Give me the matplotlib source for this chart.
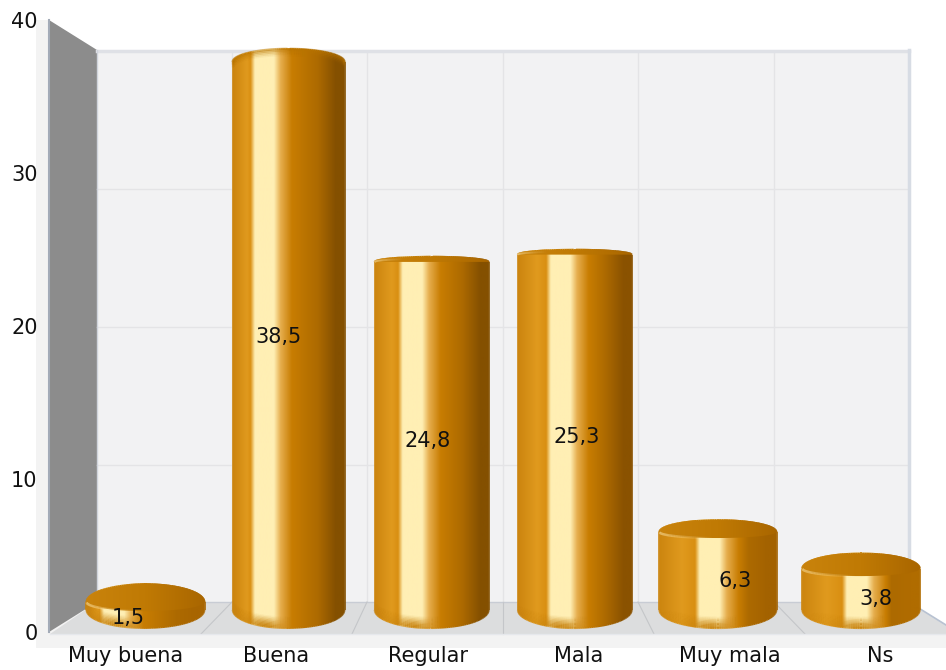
import numpy as np
import matplotlib
matplotlib.use("Agg")
import matplotlib.pyplot as plt
from matplotlib.collections import LineCollection
from matplotlib.colors import LinearSegmentedColormap, to_rgba
from matplotlib.patches import Polygon, Rectangle

categories = ["Muy buena", "Buena", "Regular", "Mala", "Muy mala", "Ns"]
values = [1.5, 38.5, 24.8, 25.3, 6.3, 3.8]
value_labels = ["1,5", "38,5", "24,8", "25,3", "6,3", "3,8"]
y_ticks = [0, 10, 20, 30, 40]

W, H = 946, 670

# nudges of the value labels, in pixels (sideways, down)
label_nudge_x = [-17, -10, -4, 2, 17, 15]
label_nudge_y = [5, -6, -2, -2, 3, 3]

# where the shine sits across each bar, and how dark its right edge gets
shine_pos = [0.235, 0.28, 0.325, 0.37, 0.43, 0.465]
right_dark = ["#a86500", "#845000", "#845000", "#8a5200", "#a36200", "#b06c00"]

# bar scale: pixel row = BAR_ZERO - BAR_SCALE * value
BAR_ZERO = 624
BAR_SCALE = 14.6
BAR_X0 = 145.5
BAR_STEP = 143.1
BASE_ROW = 610
BASE_DROP = 18

cap_cmap = LinearSegmentedColormap.from_list("cap", ["#c9830c", "#c07a04", "#a96600"])


def body_cmap(c, dark):
    hw = 0.085
    return LinearSegmentedColormap.from_list("body", [
        (0.0, "#cc850f"), (0.45 * c, "#e09a1e"), (c - hw - 0.04, "#d98f12"),
        (c - hw, "#ffefb4"), (c + hw, "#ffefb4"), (c + hw + 0.06, "#e6ae4e"),
        (c + hw + 0.16, "#c87d02"), (0.76, "#ad6a00"), (0.92, dark), (1.0, dark),
    ])


fig = plt.figure(figsize=(W / 100, H / 100), dpi=100)
fig.patch.set_facecolor("white")

# background in plain pixels
bg = fig.add_axes([0, 0, 1, 1], zorder=0)
bg.set_xlim(0, W)
bg.set_ylim(H, 0)
bg.axis("off")
bg.add_patch(Rectangle((36, 20), 910, 628, fc="#f3f3f3", ec="none"))
bg.add_patch(Polygon([(48, 20), (97, 50), (909, 50), (909, 0), (36, 0), (36, 20)], fc="white", ec="none"))
bg.add_patch(Rectangle((909, 0), 37, 602, fc="white", ec="none"))
bg.add_patch(Polygon([(909, 602), (946, 625), (946, 602)], fc="white", ec="none"))
bg.add_patch(Rectangle((97, 51), 812, 551, fc="#f2f2f3", ec="none"))
for row in [189, 327, 465]:
    bg.plot([97, 909], [row, row], color="#e4e4e6", lw=1)
back_cols = [232, 367, 503, 638, 774]
front_cols = [201, 352, 503, 654, 805]
for c in back_cols:
    bg.plot([c, c], [51, 602], color="#e4e4e6", lw=1)
bg.add_patch(Polygon([(97, 602), (909, 602), (946, 625), (946, 634), (50, 634)],
                     fc="#dcddde", ec="none"))
bg.plot([97, 909], [602, 602], color="#c8ccd4", lw=1)
for c, f in zip(back_cols, front_cols):
    bg.plot([c, f], [602, 634], color="#c4c6c9", lw=0.8)
bg.plot([909, 946], [602, 625], color="#b8c2d2", lw=1.2)
bg.plot([50, 946], [634, 634], color="#e6e8ec", lw=1)
bg.plot([97, 909], [50.5, 50.5], color="#dfe1e6", lw=2.5)
bg.plot([909, 909], [50, 602], color="#d7dce4", lw=2.5)
bg.add_patch(Polygon([(49, 20), (97, 50), (97, 602), (49, 632)], fc="#8c8c8c", ec="none"))
bg.plot([49, 49], [20, 632], color="#a3abb8", lw=1.5)
bg.plot([97, 97], [50, 602], color="#d0d4dc", lw=1)

# front plane: carries the y ticks and the category labels
front = fig.add_axes([50 / W, (H - 632) / H, 906 / W, 612 / H], zorder=1)
front.patch.set_visible(False)
for s in front.spines.values():
    s.set_visible(False)
front.set_xlim(-0.5, 5.5)
front.set_ylim(0, 40)
front.set_xticks(range(len(categories)))
front.set_xticklabels(categories, fontsize=15, color="#111111")
front.set_yticks(y_ticks)
front.set_yticklabels([str(t) for t in y_ticks], fontsize=15, color="#111111")
front.tick_params(axis="x", length=0, pad=10)
front.tick_params(axis="y", length=0, pad=9)

# bars, on their own value scale
ax = fig.add_axes([0, 0, 1, 1], zorder=2)
ax.patch.set_visible(False)
ax.axis("off")


def gradient(cmap, x0, x1, y0, y1, clip, zorder):
    img = ax.imshow(np.linspace(0, 1, 256).reshape(1, -1), cmap=cmap, vmin=0, vmax=1,
                    extent=(x0, x1, y0, y1), aspect="auto", interpolation="bilinear",
                    zorder=zorder)
    patch = Polygon(clip, closed=True, transform=ax.transData, fc="none", ec="none")
    ax.add_patch(patch)
    img.set_clip_path(patch)


def soft_edge(xs, ys, x0, x1, cmap, zorder, lw=1.2):
    pts = np.column_stack([xs, ys])
    segs = np.stack([pts[:-1], pts[1:]], axis=1)
    fr = (0.5 * (xs[:-1] + xs[1:]) - x0) / (x1 - x0)
    ax.add_collection(LineCollection(segs, colors=cmap(np.clip(fr, 0, 1)), linewidths=lw, zorder=zorder))


def fading_arc(xs, ys, color, weights, lw, zorder):
    pts = np.column_stack([xs, ys])
    segs = np.stack([pts[:-1], pts[1:]], axis=1)
    cols = np.tile(to_rgba(color), (len(segs), 1))
    cols[:, 3] = np.clip(weights[:len(segs)], 0, 1)
    ax.add_collection(LineCollection(segs, colors=cols, linewidths=lw, zorder=zorder))


t = np.linspace(0, np.pi, 80)
for i, v in enumerate(values):
    top_row = BAR_ZERO - BAR_SCALE * v
    half_w = (57 + 2 * (top_row - 250) / 350) / BAR_STEP
    x0, x1 = i - half_w, i + half_w
    if top_row > 400:
        top_h = (12 + (top_row - 532) * 6 / 70) / BAR_SCALE
    else:
        top_h = (5 + 8 * abs(top_row - 255) / 193) / BAR_SCALE
    base_v = (BAR_ZERO - BASE_ROW) / BAR_SCALE
    drop = BASE_DROP / BAR_SCALE
    xc = i + half_w * np.cos(t)
    z = 3 + i
    cmap = body_cmap(shine_pos[i], right_dark[i])

    # outline of the whole cylinder: top arc, then bottom arc
    upper_x, upper_y = xc, v + top_h * np.sin(t)
    lower_x, lower_y = xc[::-1], base_v - drop * np.sin(t)
    outline_x = np.concatenate([upper_x, lower_x])
    outline_y = np.concatenate([upper_y, lower_y])
    gradient(cmap, x0, x1, base_v - drop - 0.1, v + top_h + 0.1,
             np.column_stack([outline_x, outline_y]), z)
    soft_edge(np.append(outline_x, outline_x[0]), np.append(outline_y, outline_y[0]),
              x0, x1, cmap, z + 0.1)

    # the shine dies out towards the foot, the rest of the bar stays as it is
    frac = (lower_x[:-1] - x0) / (x1 - x0)
    around_shine = np.exp(-((frac - shine_pos[i]) / 0.17) ** 2)
    for k, a in enumerate([0.85, 0.78, 0.68, 0.56, 0.44, 0.32, 0.22, 0.13, 0.06]):
        fading_arc(lower_x, lower_y + k * 1.3 / BAR_SCALE, "#c98410",
                   a * around_shine, 1.6, z + 0.2)

    if top_row > 400:
        # top face of the short bars, below eye level
        front_h = top_h * 0.5
        cap_y = np.concatenate([upper_y, v - front_h * np.sin(t)])
        gradient(cap_cmap, x0, x1, v - front_h - 0.1, v + top_h + 0.1,
                 np.column_stack([np.concatenate([upper_x, lower_x]), cap_y]), z + 0.3)
        soft_edge(upper_x, upper_y, x0, x1, cap_cmap, z + 0.4)
        fade = np.clip(1 - np.linspace(0, 1, 79) * 2.1, 0, 1) * 0.75
        fade[:3] *= np.array([0.2, 0.5, 0.8])
        fading_arc(lower_x, v - front_h * np.sin(t), "#fbe2a4", fade, 1.8, z + 0.5)
    elif top_row > 200:
        # nearly edge-on top of the middle bars
        band_y = np.concatenate([upper_y, v * np.ones_like(t)])
        gradient(cap_cmap, x0, x1, v - 0.1, v + top_h + 0.1,
                 np.column_stack([np.concatenate([upper_x, lower_x]), band_y]), z + 0.3)
        soft_edge(upper_x, upper_y, x0, x1, cap_cmap, z + 0.4)
        fade = np.clip(1 - np.linspace(0, 1, 79) * 3, 0, 1) * 0.8
        fading_arc(lower_x, v + top_h * 0.6 * np.sin(t), "#fbe2a4", fade, 1.4, z + 0.5)
    else:
        # tall bar: the top edge just darkens a little
        for k, a in enumerate([0.5, 0.35, 0.22, 0.12, 0.06]):
            fading_arc(upper_x, upper_y - k * 1.5 / BAR_SCALE, "#b87400",
                       a * np.ones(79), 1.8, z + 0.2)

    ax.text(i + label_nudge_x[i] / BAR_STEP, v / 2 - label_nudge_y[i] / BAR_SCALE, value_labels[i],
            fontsize=15, color="#111111", ha="center", va="center", zorder=20)

ax.set_xlim(-BAR_X0 / BAR_STEP, (W - BAR_X0) / BAR_STEP)
ax.set_ylim((BAR_ZERO - H) / BAR_SCALE, BAR_ZERO / BAR_SCALE)

fig.savefig("out.png", dpi=100)
plt.close(fig)
